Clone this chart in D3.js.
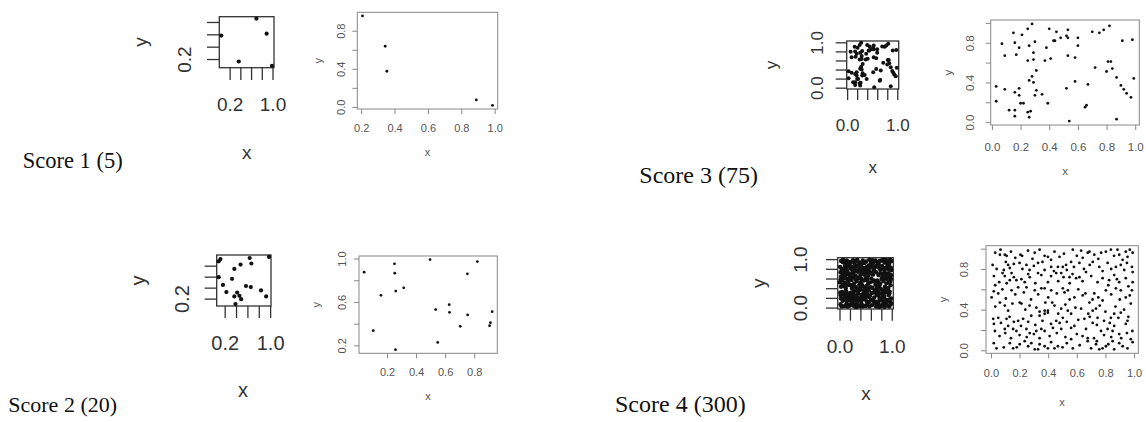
<!DOCTYPE html>
<html><head><meta charset="utf-8">
<script src="https://cdn.jsdelivr.net/npm/d3@7"></script>
<style>body{margin:0;background:#fff}svg{display:block}</style>
</head><body>
<svg id="c" width="1146" height="422"></svg>
<script>
// ---------- data ----------
const scoreLabels = ["Score 1 (5)", "Score 2 (20)", "Score 3 (75)", "Score 4 (300)"];
const tickValues = [0, 0.2, 0.4, 0.6, 0.8, 1.0];

const s1SmallX = [0.045, 0.37, 0.70, 0.89, 0.99];
const s1SmallY = [0.58, 0.16, 0.855, 0.61, 0.09];
const s1X = [0.208, 0.344, 0.354, 0.89, 0.987];
const s1Y = [0.956, 0.637, 0.374, 0.073, 0.015];

const s2SmallX = [0.095,0.125,0.64,0.67,0.98,0.37,0.48,0.095,0.33,0.17,0.23,0.575,0.66,0.84,0.93,0.37,0.42,0.46,0.49,0.39];
const s2SmallY = [0.88,0.92,0.94,0.84,0.96,0.74,0.82,0.59,0.56,0.45,0.32,0.43,0.41,0.35,0.24,0.24,0.31,0.25,0.19,0.10];
const s2X = [0.042,0.105,0.158,0.251,0.253,0.26,0.258,0.315,0.496,0.535,0.549,0.628,0.63,0.704,0.753,0.755,0.822,0.906,0.912,0.924];
const s2Y = [0.874,0.335,0.661,0.951,0.865,0.70,0.16,0.73,0.99,0.53,0.227,0.575,0.504,0.375,0.859,0.48,0.972,0.381,0.409,0.51];

const s3Points = [
 [0.28,0.99],[0.82,0.97],[0.40,0.94],[0.25,0.94],[0.78,0.93],[0.53,0.93],[0.15,0.90],[0.45,0.91],[0.70,0.91],[0.75,0.90],[0.21,0.88],[0.52,0.87],
 [0.48,0.85],[0.53,0.85],[0.60,0.85],[0.43,0.82],[0.44,0.82],[0.30,0.81],[0.91,0.82],[0.98,0.83],[0.16,0.80],[0.07,0.79],[0.26,0.77],[0.60,0.77],[0.19,0.75],[0.38,0.75],
 [0.29,0.70],[0.17,0.68],[0.09,0.67],[0.53,0.67],[0.58,0.65],[0.41,0.64],[0.29,0.63],[0.25,0.62],[0.37,0.62],[0.81,0.61],[0.83,0.61],
 [0.72,0.55],[0.84,0.54],[0.31,0.52],[0.80,0.51],[0.28,0.46],[0.87,0.45],[0.99,0.44],[0.26,0.42],[0.29,0.40],[0.58,0.41],[0.67,0.38],[0.03,0.36],[0.90,0.37],
 [0.09,0.33],[0.19,0.34],[0.52,0.34],[0.31,0.32],[0.92,0.33],[0.16,0.30],[0.35,0.28],[0.30,0.27],[0.19,0.27],[0.94,0.29],[0.97,0.25],[0.03,0.21],[0.20,0.19],[0.22,0.19],[0.39,0.19],
 [0.66,0.17],[0.65,0.15],[0.12,0.12],[0.16,0.12],[0.25,0.10],[0.27,0.11],[0.16,0.06],[0.26,0.05],[0.54,0.01],[0.87,0.03]
];

const s4Points = [
 [0.067,0.99],[0.097,0.94],[0.063,0.94],[0.206,0.94],[0.218,0.93],[0.259,0.98],[0.306,0.96],[0.375,0.93],[0.398,0.92],[0.444,0.97],[0.479,0.92],
 [0.012,0.84],[0.104,0.87],[0.12,0.84],[0.09,0.79],[0.132,0.81],[0.2,0.86],[0.248,0.84],[0.27,0.79],[0.329,0.86],[0.375,0.79],[0.421,0.82],[0.468,0.82],[0.502,0.82],
 [0.021,0.73],[0.081,0.76],[0.097,0.73],[0.144,0.76],[0.058,0.67],[0.132,0.69],[0.178,0.69],[0.213,0.70],[0.236,0.67],[0.271,0.72],[0.329,0.76],[0.352,0.74],[0.398,0.67],[0.456,0.76],[0.491,0.76],[0.507,0.72],
 [0.005,0.52],[0.051,0.56],[0.104,0.51],[0.144,0.59],[0.19,0.62],[0.248,0.62],[0.306,0.59],[0.352,0.61],[0.375,0.61],[0.421,0.59],[0.502,0.61],
 [0.063,0.47],[0.097,0.44],[0.201,0.47],[0.213,0.46],[0.317,0.42],[0.375,0.39],[0.398,0.39],[0.428,0.47],[0.444,0.44],[0.491,0.41],
 [0.016,0.31],[0.051,0.32],[0.021,0.26],[0.109,0.31],[0.19,0.29],[0.225,0.31],[0.282,0.34],[0.34,0.34],[0.375,0.36],[0.398,0.37],[0.456,0.29],[0.502,0.32],
 [0.028,0.19],[0.097,0.21],[0.12,0.24],[0.155,0.21],[0.178,0.19],[0.248,0.21],[0.271,0.17],[0.317,0.19],[0.352,0.21],[0.375,0.19],[0.433,0.22],[0.491,0.21],
 [0.039,0.02],[0.132,0.07],[0.155,0.02],[0.201,0.06],[0.236,0.09],[0.282,0.07],[0.306,0.01],[0.329,0.01],[0.375,0.04],[0.398,0.02],[0.444,0.02],[0.468,0.04],
 [0.572,0.99],[0.676,0.96],[0.688,0.97],[0.641,0.91],[0.722,0.94],[0.803,0.97],[0.838,0.99],[0.884,0.99],[0.896,0.94],[0.942,0.97],[0.954,0.92],[0.99,0.96],
 [0.525,0.84],[0.56,0.87],[0.618,0.86],[0.711,0.87],[0.757,0.82],[0.815,0.86],[0.873,0.82],[0.907,0.84],[0.931,0.79],[0.985,0.82],
 [0.549,0.72],[0.618,0.72],[0.595,0.71],[0.664,0.77],[0.745,0.67],[0.826,0.69],[0.861,0.74],[0.896,0.67],[0.942,0.71],[0.99,0.67],
 [0.514,0.57],[0.537,0.59],[0.583,0.52],[0.641,0.54],[0.688,0.47],[0.722,0.56],[0.803,0.59],[0.873,0.61],[0.907,0.59],[0.942,0.52],[0.985,0.59],
 [0.537,0.39],[0.56,0.36],[0.63,0.41],[0.653,0.31],[0.711,0.39],[0.734,0.41],[0.745,0.32],[0.838,0.32],[0.861,0.36],[0.907,0.37],[0.954,0.29],[0.977,0.46],
 [0.56,0.22],[0.583,0.24],[0.664,0.21],[0.711,0.27],[0.769,0.19],[0.815,0.21],[0.861,0.24],[0.896,0.16],[0.942,0.26],[0.988,0.19],
 [0.56,0.11],[0.572,0.02],[0.676,0.12],[0.676,0.09],[0.734,0.06],[0.757,0.01],[0.78,0.02],[0.803,0.04],[0.85,0.09],[0.861,0.01],[0.896,0.07],[0.954,0.02],[0.977,0.11],
 [0.03,0.96],[0.14,0.97],[0.17,0.91],[0.29,0.90],[0.34,0.99],[0.42,0.89],[0.51,0.95],[0.60,0.93],[0.63,0.98],[0.75,0.90],[0.77,0.96],[0.86,0.93],[0.92,0.89],[0.97,0.99],
 [0.04,0.80],[0.16,0.85],[0.22,0.80],[0.30,0.83],[0.36,0.87],[0.44,0.78],[0.53,0.79],[0.58,0.82],[0.65,0.80],[0.69,0.84],[0.78,0.78],[0.84,0.80],[0.95,0.86],[0.99,0.77],
 [0.03,0.64],[0.11,0.66],[0.16,0.72],[0.26,0.75],[0.31,0.66],[0.42,0.73],[0.47,0.68],[0.55,0.66],[0.64,0.68],[0.70,0.73],[0.78,0.71],[0.82,0.64],[0.88,0.70],[0.96,0.63],
 [0.02,0.58],[0.08,0.60],[0.17,0.55],[0.23,0.57],[0.28,0.50],[0.33,0.55],[0.40,0.52],[0.46,0.56],[0.55,0.50],[0.61,0.60],[0.66,0.56],[0.75,0.52],[0.78,0.49],[0.84,0.55],[0.90,0.50],[0.97,0.54],
 [0.03,0.43],[0.12,0.39],[0.15,0.46],[0.24,0.40],[0.27,0.44],[0.34,0.38],[0.47,0.36],[0.52,0.45],[0.59,0.42],[0.68,0.36],[0.76,0.44],[0.80,0.38],[0.87,0.43],[0.93,0.40],
 [0.07,0.27],[0.13,0.33],[0.16,0.28],[0.21,0.24],[0.26,0.28],[0.31,0.25],[0.36,0.29],[0.42,0.26],[0.48,0.27],[0.53,0.28],[0.61,0.30],[0.69,0.33],[0.74,0.25],[0.79,0.29],[0.83,0.27],[0.89,0.32],[0.96,0.33],
 [0.06,0.14],[0.10,0.17],[0.14,0.12],[0.20,0.15],[0.25,0.13],[0.30,0.16],[0.34,0.12],[0.41,0.14],[0.46,0.17],[0.52,0.13],[0.60,0.16],[0.64,0.14],[0.72,0.12],[0.79,0.15],[0.84,0.13],[0.91,0.12],[0.95,0.17],
 [0.02,0.07],[0.09,0.03],[0.18,0.03],[0.26,0.04],[0.34,0.06],[0.42,0.08],[0.50,0.03],[0.53,0.07],[0.62,0.05],[0.70,0.02],[0.74,0.09],[0.82,0.06],[0.92,0.04],[0.99,0.08],
 [0.11,0.93],[0.57,0.75],[0.38,0.47],[0.71,0.50],[0.85,0.19]
];

// ---------- drawing ----------
const svg = d3.select("#c");
const fmt = d3.format(".1f");

function pad(ext) { const s = ext[1] - ext[0]; return [ext[0] - 0.04 * s, ext[1] + 0.04 * s]; }

function panel(cfg, xs, ys) {
  const x = d3.scaleLinear().domain(pad(d3.extent(xs))).range([cfg.l, cfg.r]);
  const y = d3.scaleLinear().domain(pad(d3.extent(ys))).range([cfg.b, cfg.t]);
  const inD = (s, v) => v >= s.domain()[0] - 1e-9 && v <= s.domain()[1] + 1e-9;
  const g = svg.append("g");
  const lab = (list, v) => list.some(u => Math.abs(u - v) < 1e-9) ? fmt(v) : "";

  const ax = g.append("g").attr("transform", `translate(0,${cfg.b})`)
    .call(d3.axisBottom(x).tickValues(tickValues.filter(v => inD(x, v))).tickSize(cfg.tick)
      .tickFormat(v => lab(cfg.xlab, v)));
  ax.select(".domain").remove();
  ax.selectAll("line").attr("stroke", cfg.line).attr("stroke-width", cfg.sw);
  ax.selectAll("text").attr("y", cfg.xoff).attr("dy", "0.36em")
    .attr("font-family", "Liberation Sans, Arial, sans-serif").attr("font-size", cfg.fs).attr("fill", cfg.text);

  const ay = g.append("g").attr("transform", `translate(${cfg.l},0)`)
    .call(d3.axisLeft(y).tickValues(tickValues.filter(v => inD(y, v))).tickSize(cfg.tick)
      .tickFormat(v => lab(cfg.ylab, v)));
  ay.select(".domain").remove();
  ay.selectAll("line").attr("stroke", cfg.line).attr("stroke-width", cfg.sw);
  ay.selectAll("text").attr("x", 0).attr("dy", "0.36em").attr("text-anchor", "middle")
    .attr("transform", `translate(${-cfg.yoff},0) rotate(-90)`)
    .attr("font-family", "Liberation Sans, Arial, sans-serif").attr("font-size", cfg.fs).attr("fill", cfg.text);

  g.append("rect").attr("x", cfg.l).attr("y", cfg.t).attr("width", cfg.r - cfg.l).attr("height", cfg.b - cfg.t)
    .attr("fill", "none").attr("stroke", cfg.line).attr("stroke-width", cfg.sw);

  g.append("g").selectAll("circle").data(xs.map((v, i) => [v, ys[i]])).join("circle")
    .attr("cx", d => x(d[0])).attr("cy", d => y(d[1])).attr("r", cfg.pr).attr("fill", "#111");

  g.append("text").attr("x", cfg.xt[0]).attr("y", cfg.xt[1]).attr("dy", "0.36em").attr("text-anchor", "middle")
    .attr("font-family", "Liberation Sans, Arial, sans-serif").attr("font-size", cfg.fs).attr("fill", cfg.text).text("x");
  g.append("text").attr("transform", `translate(${cfg.yt[0]},${cfg.yt[1]}) rotate(-90)`).attr("dy", "0.36em")
    .attr("text-anchor", "middle")
    .attr("font-family", "Liberation Sans, Arial, sans-serif").attr("font-size", cfg.fs).attr("fill", cfg.text).text("y");
}

const smallStyle = { line: "#333", sw: 1.3, text: "#333", pr: 2.1 };
const bigStyle = { line: "#888", sw: 1, text: "#555", pr: 1.4, tick: 5 };

panel({ ...smallStyle, l: 219.3, r: 274, t: 16.7, b: 67.7, tick: 12.3, xoff: 36.3, yoff: 34.7, fs: 19,
        xlab: [0.2, 1.0], ylab: [0.2], xt: [246.7, 151.7], yt: [140, 42] }, s1SmallX, s1SmallY);
panel({ ...bigStyle, l: 357.3, r: 497.7, t: 12.3, b: 109, xoff: 18.7, yoff: 16.6, fs: 11,
        xlab: tickValues, ylab: [0, 0.4, 0.8], xt: [427.5, 152], yt: [318, 60.7] }, s1X, s1Y);

panel({ ...smallStyle, l: 216.7, r: 271, t: 255, b: 306, tick: 12, xoff: 37, yoff: 34.7, fs: 20,
        xlab: [0.2, 1.0], ylab: [0.2], xt: [243, 390], yt: [138, 280.5] }, s2SmallX, s2SmallY);
panel({ ...bigStyle, l: 359, r: 497.3, t: 256, b: 353.3, xoff: 18.4, yoff: 17.3, fs: 11,
        xlab: tickValues, ylab: [0.2, 0.6, 1.0], xt: [428, 395.7], yt: [316, 304.7] }, s2X, s2Y);

const s3X = s3Points.map(d => d[0]), s3Y = s3Points.map(d => d[1]);
panel({ ...smallStyle, pr: 2.0, l: 846.7, r: 898.7, t: 41, b: 89, tick: 11, xoff: 36, yoff: 30, fs: 17,
        xlab: [0, 1.0], ylab: [0, 1.0], xt: [872.7, 166.7], yt: [770.7, 65] }, s3X, s3Y);
panel({ ...bigStyle, l: 990.7, r: 1139.3, t: 20, b: 125, xoff: 21.7, yoff: 20.7, fs: 11.5,
        xlab: tickValues, ylab: [0, 0.4, 0.8], xt: [1065, 171], yt: [948.3, 72.5] }, s3X, s3Y);

const s4X = s4Points.map(d => d[0]), s4Y = s4Points.map(d => d[1]);
panel({ ...smallStyle, pr: 2.2, l: 837.7, r: 893.3, t: 257.7, b: 309, tick: 11.7, xoff: 37, yoff: 37.7, fs: 19,
        xlab: [0, 1.0], ylab: [0, 1.0], xt: [866, 393.3], yt: [758.3, 283.3] }, s4X, s4Y);
panel({ ...bigStyle, l: 986, r: 1138.3, t: 245.7, b: 353.3, xoff: 20, yoff: 21.7, fs: 11,
        xlab: tickValues, ylab: [0, 0.4, 0.8], xt: [1062, 402], yt: [943, 299.5] }, s4X, s4Y);

const labelPos = [[22.7, 167.7, 22.5], [8.3, 411.7, 22], [639.3, 183.3, 24], [615, 411.7, 24]];
svg.append("g").selectAll("text").data(scoreLabels).join("text")
  .attr("x", (d, i) => labelPos[i][0]).attr("y", (d, i) => labelPos[i][1])
  .attr("font-size", (d, i) => labelPos[i][2])
  .attr("font-family", "Liberation Serif, Times New Roman, serif").attr("fill", "#111")
  .text(d => d);
</script>
</body></html>
